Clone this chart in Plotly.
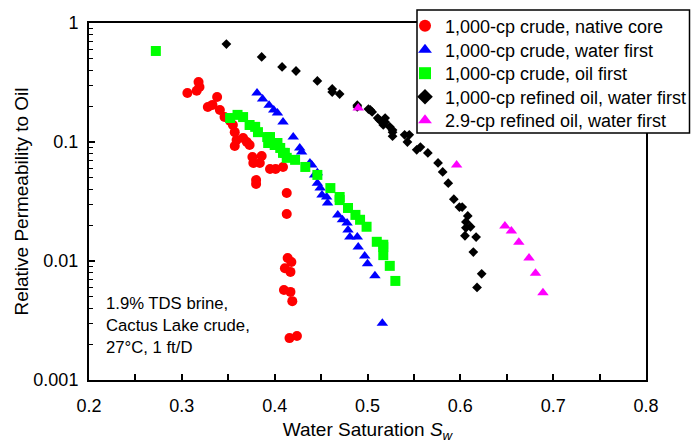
import plotly.graph_objects as go

# ---------------- data ----------------
red_x = [0.306, 0.316, 0.318, 0.319, 0.328, 0.333, 0.338, 0.341, 0.346, 0.352,
         0.355, 0.357, 0.359, 0.357, 0.366, 0.370, 0.373, 0.376, 0.377, 0.384,
         0.386, 0.395, 0.401, 0.409, 0.380, 0.380, 0.413, 0.413, 0.414, 0.418,
         0.411, 0.417, 0.410, 0.417, 0.419, 0.424, 0.416]
red_y = [0.258, 0.270, 0.319, 0.290, 0.197, 0.205, 0.239, 0.186, 0.162, 0.150,
         0.139, 0.121, 0.104, 0.0925, 0.108, 0.100, 0.0944, 0.0748, 0.0667, 0.0667,
         0.0762, 0.0593, 0.0593, 0.0617, 0.0480, 0.0444, 0.0373, 0.0248, 0.0106, 0.0098,
         0.0087, 0.0081, 0.0057, 0.0055, 0.0046, 0.00234, 0.00225]

blue_x = [0.381, 0.387, 0.394, 0.399, 0.403, 0.409, 0.420, 0.427, 0.429, 0.438,
          0.440, 0.443, 0.446, 0.446, 0.449, 0.451, 0.456, 0.457, 0.468, 0.473,
          0.478, 0.479, 0.481, 0.489, 0.490, 0.497, 0.500, 0.508, 0.516]
blue_y = [0.258, 0.230, 0.204, 0.186, 0.175, 0.147, 0.110, 0.0891, 0.0823, 0.0667,
          0.0640, 0.0529, 0.0551, 0.0451, 0.0410, 0.0359, 0.0345, 0.0307, 0.0244, 0.0222,
          0.0209, 0.0182, 0.0159, 0.0159, 0.0131, 0.0110, 0.0095, 0.0075, 0.0030]

green_x = [0.272, 0.352, 0.360, 0.366, 0.373, 0.379, 0.382, 0.392, 0.393, 0.395,
           0.400, 0.403, 0.406, 0.409, 0.411, 0.413, 0.422, 0.433, 0.446, 0.460,
           0.470, 0.470, 0.479, 0.487, 0.492, 0.499, 0.510, 0.517, 0.517, 0.517,
           0.524, 0.530]
green_y = [0.582, 0.159, 0.169, 0.162, 0.139, 0.134, 0.121, 0.110, 0.0981, 0.110,
           0.0944, 0.0981, 0.0891, 0.0810, 0.0810, 0.0736, 0.0708, 0.0617, 0.0529, 0.0410,
           0.0345, 0.0325, 0.0279, 0.0244, 0.0222, 0.0194, 0.0145, 0.0137, 0.0131, 0.0112,
           0.0091, 0.0068]

black_x = [0.348, 0.386, 0.408, 0.423, 0.446, 0.462, 0.470, 0.462, 0.489, 0.489,
           0.501, 0.503, 0.505, 0.511, 0.513, 0.519, 0.519, 0.517, 0.524, 0.527,
           0.527, 0.527, 0.540, 0.545, 0.543, 0.553, 0.557, 0.565, 0.576, 0.581,
           0.587, 0.593, 0.599, 0.602, 0.608, 0.606, 0.611, 0.606, 0.605, 0.617,
           0.614, 0.623, 0.618]
black_y = [0.666, 0.518, 0.427, 0.395, 0.326, 0.279, 0.253, 0.263, 0.204, 0.197,
           0.189, 0.186, 0.179, 0.159, 0.153, 0.159, 0.147, 0.139, 0.134, 0.126,
           0.121, 0.112, 0.115, 0.115, 0.100, 0.0859, 0.0907, 0.0810, 0.0667, 0.0560,
           0.0451, 0.0331, 0.0284, 0.0284, 0.0239, 0.0213, 0.0194, 0.0190, 0.0163, 0.0159,
           0.0119, 0.0078, 0.0060]

mag_x = [0.490, 0.596, 0.648, 0.655, 0.663, 0.674, 0.681, 0.689]
mag_y = [0.193, 0.0641, 0.0197, 0.0179, 0.0144, 0.0106, 0.0079, 0.0054]

series_names = ["1,000-cp crude, native core",
                "1,000-cp crude, water first",
                "1,000-cp crude, oil first",
                "1,000-cp refined oil, water first",
                "2.9-cp refined oil, water first"]

x_ticks = [0.2, 0.3, 0.4, 0.5, 0.6, 0.7, 0.8]
y_ticks = [0.001, 0.01, 0.1, 1]
y_ticktext = ["0.001", "0.01", "0.1", "1"]
note_lines = ["1.9% TDS brine,", "Cactus Lake crude,", "27°C, 1 ft/D"]

FONT = "Liberation Sans, Arial, Helvetica, sans-serif"

# layout geometry (pixels)
W, H = 691, 444
ML, MR, MT, MB = 89, 45, 23, 64
PW, PH = W - ML - MR, H - MT - MB


def px_x(p):
    return (p - ML) / PW


def px_y(p):
    return (H - MB - p) / PH


fig = go.Figure()
specs = [
    (red_x, red_y, "circle", "#ff0000", 10),
    (blue_x, blue_y, "triangle-up", "#0000ff", 10),
    (green_x, green_y, "square", "#00ff00", 10),
    (black_x, black_y, "diamond", "#000000", 7.5),
    (mag_x, mag_y, "triangle-up", "#ff00ff", 10),
]
legend_rows = [26, 50, 73.5, 97, 120.5]
legend_ids = ["legend", "legend2", "legend3", "legend4", "legend5"]
for (xs, ys, sym, col, sz), name, lid in zip(specs, series_names, legend_ids):
    fig.add_trace(go.Scatter(x=xs, y=ys, mode="markers", name=name, legend=lid,
                             marker=dict(symbol=sym, color=col, size=sz,
                                         line=dict(width=0))))

minor_y = [m * 10 ** e for e in range(-3, 0) for m in range(2, 10)]

legend_layouts = {}
for lid, row in zip(legend_ids, legend_rows):
    legend_layouts[lid] = dict(x=px_x(405), y=px_y(row), xanchor="left", yanchor="middle",
                               bgcolor="rgba(0,0,0,0)", borderwidth=0,
                               font=dict(family=FONT, size=18, color="black"),
                               itemsizing="constant")

fig.update_layout(
    width=W, height=H,
    margin=dict(l=ML, r=MR, t=MT, b=MB, autoexpand=False),
    paper_bgcolor="white", plot_bgcolor="white",
    font=dict(family=FONT, size=18, color="black"),
    showlegend=True,
    xaxis=dict(range=[0.2, 0.8], tickvals=x_ticks, ticks="inside", ticklen=6,
               tickwidth=1.5, tickcolor="black",
               minor=dict(dtick=0.05, ticks="inside", ticklen=6, tickwidth=1.5,
                          tickcolor="black", showgrid=False),
               showline=True, linecolor="black", linewidth=2, mirror=True,
               showgrid=False, zeroline=False, tickformat=".1f",
               ticklabelstandoff=8,
               tickfont=dict(family=FONT, size=18),
               title=dict(text="Water Saturation <i>S<sub>w</sub></i>",
                          font=dict(family=FONT, size=19), standoff=8)),
    yaxis=dict(type="log", range=[-3, 0], tickvals=y_ticks, ticktext=y_ticktext,
               ticks="inside", ticklen=6, tickwidth=1.5, tickcolor="black",
               minor=dict(tickvals=minor_y, ticks="inside", ticklen=4, tickwidth=1.2,
                          tickcolor="black", showgrid=False),
               showline=True, linecolor="black", linewidth=2, mirror=True,
               showgrid=False, zeroline=False, ticklabelstandoff=5,
               tickfont=dict(family=FONT, size=18),
               title=dict(text="Relative Permeability to Oil",
                          font=dict(family=FONT, size=19), standoff=0)),
    **legend_layouts,
)

# legend frame
fig.add_shape(type="rect", xref="paper", yref="paper",
              x0=px_x(417), x1=px_x(689.5), y0=px_y(133), y1=px_y(10),
              fillcolor="white", line=dict(color="black", width=1.5), layer="above")

for i, line in enumerate(note_lines):
    fig.add_annotation(x=px_x(104), y=px_y(303 + 22 * i), xref="paper", yref="paper",
                       text=line, showarrow=False, xanchor="left", yanchor="middle",
                       font=dict(family=FONT, size=16.7, color="black"))

fig.write_html("out.html")
